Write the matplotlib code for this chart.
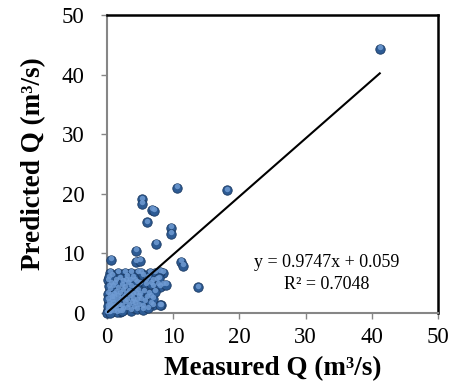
import matplotlib
matplotlib.use("Agg")
import matplotlib.pyplot as plt
import matplotlib.transforms as mtransforms

# measured vs predicted discharge (m3/s)
measured = [41.2, 10.6, 18.1, 5.3, 5.3, 6.8, 7.1, 6.0, 9.7, 9.7, 7.4, 4.4, 0.6, 4.4, 5.0,
            11.2, 11.5, 13.7, 8.5, 8.4, 8.2, 7.7, 6.9,
            0.5, 1.7, 2.7, 3.6, 4.7, 5.1, 6.5, 7.3, 8.0,
            0.2, 1.4, 2.9, 4.2, 5.9, 6.9, 7.5,
            5.0, 5.9, 6.6, 8.0, 8.9, 6.6, 5.4, 6.9, 8.0,
            0.1, 0.2, 0.3, 0.4, 0.5, 0.6, 0.7, 0.8, 0.9, 1.0, 1.1, 1.2, 1.3, 1.4, 1.5,
            1.6, 1.7, 1.8, 1.9, 2.0, 2.1, 2.2, 2.3, 2.4, 2.5, 2.6, 2.7, 2.8, 2.9, 3.0,
            3.1, 3.2, 3.3, 3.4, 3.5, 3.6, 3.7, 3.8, 3.9, 4.0, 4.1, 4.2, 4.3, 4.4, 4.5,
            4.6, 4.7, 4.8, 4.9, 5.0, 5.2, 5.4, 5.6, 5.8, 6.0, 6.2, 6.4, 6.6, 7.0, 7.2,
            0.3, 0.4, 0.5, 0.2, 0.3, 0.6, 0.9, 1.0, 0.7, 0.2, 0.1, 1.2, 0.8, 0.3, 2.0,
            3.0, 4.0, 5.5, 6.2, 7.8, 2.5, 3.5, 4.5, 1.5, 2.2, 0.05, 0.4]
predicted = [44.3, 21.0, 20.6, 19.1, 18.3, 17.3, 17.2, 15.2, 14.3, 13.3, 11.6, 10.4, 8.9, 8.6, 8.7,
             8.6, 7.9, 4.3, 6.7, 4.7, 1.3, 4.7, 4.4,
             6.7, 6.7, 6.7, 6.7, 6.7, 6.7, 6.7, 6.7, 6.9,
             5.5, 5.5, 5.5, 5.5, 5.5, 5.4, 5.6,
             4.9, 4.7, 4.9, 4.4, 4.7, 2.7, 1.0, 1.3, 1.3,
             0.2, 0.5, 0.1, 0.8, 1.2, 0.4, 2.0, 0.9, 1.6, 0.3, 2.6, 1.1, 3.4, 0.6, 1.9,
             4.0, 2.8, 1.3, 0.2, 3.2, 2.2, 4.6, 1.0, 3.8, 0.5, 2.6, 1.7, 4.2, 3.0, 0.8,
             2.0, 4.9, 1.3, 3.6, 2.7, 0.4, 4.4, 1.8, 3.1, 2.3, 0.9, 4.0, 1.5, 3.3, 2.0,
             0.6, 3.8, 2.7, 1.2, 3.0, 2.2, 0.5, 3.5, 1.9, 2.6, 0.8, 3.2, 1.6, 2.4, 3.6,
             1.8, 2.9, 3.9, 3.2, 4.5, 5.0, 4.4, 3.0, 2.5, 2.3, 1.1, 5.0, 6.2, 6.0, 5.8,
             6.1, 6.0, 6.3, 6.0, 5.8, 5.2, 5.5, 5.1, 0.1, 0.3, 0.0, 0.05]

slope, intercept = 0.9747, 0.059
fit_x = [0, 41.2]
ticks = [0, 10, 20, 30, 40, 50]

plt.rcParams['font.family'] = ['Liberation Serif', 'DejaVu Serif']

fig = plt.figure(figsize=(4.67, 3.91), dpi=100)
ax = fig.add_axes([0.229, 0.1995, 0.709, 0.762])

# sphere-like markers: dark body plus a lighter highlight shifted up
ax.scatter(measured, predicted, s=46, color='#2d5b94', edgecolor='#1b3a63',
           linewidth=0.6, zorder=3, clip_on=False)
hi = mtransforms.offset_copy(ax.transData, fig=fig, x=0, y=1.2, units='points')
ax.scatter(measured, predicted, s=15, color='#6f9bd3', linewidth=0,
           alpha=0.85, zorder=4, transform=hi, clip_on=False)

ax.plot(fit_x, [slope * v + intercept for v in fit_x], color='black', lw=1.5, zorder=5)

ax.text(33.2, 8.4, 'y = 0.9747x + 0.059', ha='center', va='center', fontsize=13)
ax.text(33.2, 4.7, 'R² = 0.7048', ha='center', va='center', fontsize=13)

ax.set_xlim(0, 50)
ax.set_ylim(0, 50)
ax.set_xticks(ticks)
ax.set_yticks(ticks)
ax.tick_params(direction='out', length=4, width=1, color='#868686', labelsize=16.5)
ax.tick_params(axis='x', pad=6)
ax.tick_params(axis='y', pad=12)

for side in ['left', 'bottom']:
    ax.spines[side].set_color('#868686')
    ax.spines[side].set_linewidth(1.5)
for side in ['top', 'right']:
    ax.spines[side].set_color('black')
    ax.spines[side].set_linewidth(1.8)

ax.set_xlabel('Measured Q (m³/s)', fontsize=19.5, fontweight='bold', labelpad=6)
ax.set_ylabel('Predicted Q (m³/s)', fontsize=19.5, fontweight='bold', labelpad=11)

fig.savefig('out.png', dpi=100)
